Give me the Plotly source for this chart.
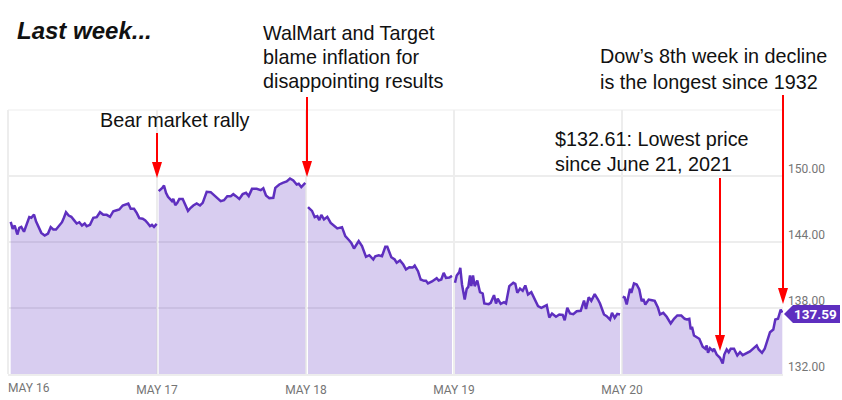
import plotly.graph_objects as go

W, H = 842, 400
L, R, T, B = 8, 783, 110, 374

t_s1 = [10.7,12.7,14.7,17.3,19.3,21.3,24,26.7,29.3,31.3,34,36,38.7,41.3,44.7,48,50.7,53.3,56,59.3,62,64,66,68.7,71.3,74,76.7,79.3,82,84.7,86.7,90,93.3,96.7,100,103.3,106.7,110,113.3,116.7,119.3,122.7,126,128.3,130.7,134,136.7,139.3,142.7,145.3,148,150,152,154,156.7]
p_s1 = [145.83,145.20,145.50,144.68,145.29,145.38,144.93,145.59,146.26,146.20,146.50,145.89,145.38,144.83,144.59,144.77,145.35,145.14,145.14,145.56,145.80,146.23,146.71,146.41,146.29,145.99,145.68,145.80,145.50,145.68,145.44,145.56,146.20,146.26,146.71,146.47,146.47,146.29,146.80,146.89,146.96,147.32,147.47,147.50,147.02,147.02,146.65,146.17,146.11,145.96,145.68,145.44,145.56,145.38,145.65]

t_s2 = [158.7,160.7,162.3,164,166,168,170,172,173.3,175.3,177.3,179.3,182.7,185.3,188,190.7,193.3,196.7,200,202.7,205.3,206.7,210.7,214,217.3,220.7,224,227.3,230.7,233.3,236,239.3,242.7,246,248.7,252,256.7,260.7,263.3,266,269.3,273.3,275.3,279.3,282.7,286.7,290,293.3,296.7,298.7,301.3,305.3]
p_s2 = [148.62,148.77,148.92,149.14,148.47,148.11,147.86,147.71,147.92,147.35,147.56,147.92,147.92,147.41,146.83,147.11,147.32,147.50,147.32,147.56,148.11,148.56,148.53,148.23,147.96,147.71,147.80,148.17,148.17,148.35,148.17,147.92,148.35,148.47,148.17,148.83,148.83,148.71,148.89,148.23,147.99,148.02,148.92,149.23,149.38,149.50,149.77,149.59,149.23,149.29,148.99,149.38]

t_s3 = [308,310.7,312,314.7,317.3,319.3,321.3,324,327.3,330.7,334,337.3,342,345.3,349.3,351.3,354,356.7,358.7,362,366,369.3,373.3,375.3,378.7,382,385.3,387.3,391.3,394.7,396.7,400,403.3,406,409.3,412.7,414.7,418,420.7,424,426,428,432,436.7,438.7,441.3,443.7,446,449.3,452]
p_s3 = [147.17,146.89,146.83,146.26,146.35,145.99,146.47,146.05,146.29,145.74,145.50,145.23,145.35,144.53,144.14,143.92,143.41,143.77,144.08,143.62,142.65,142.80,142.41,142.71,142.80,142.71,143.56,143.56,142.62,142.41,142.11,142.32,141.95,141.50,141.71,141.68,141.86,141.35,140.59,140.47,140.47,140.23,140.41,140.71,140.50,140.59,141.20,140.74,140.77,140.92]

t_s4 = [455,456.7,459.3,460.3,462,464.7,466.7,468.3,470,471.3,473,474.7,477.3,480,482.7,484.3,488.7,490.7,494,496,497.7,500.7,504,506,509.3,513.3,515.3,517.3,520,522.7,525.3,528,531.3,534.7,538,541.3,546.7,549.3,552,556,559.3,562.7,564.7,567.3,570,573.3,576.7,580.7,584,586,588.7,591.3,594.7,598,600,604,606.7,610,612,614.7,617.3,620]
p_s4 = [140.29,140.96,141.26,141.65,140.14,138.77,139.74,139.92,140.96,139.99,140.96,139.99,140.50,139.44,139.32,138.41,138.35,138.47,139.17,138.41,138.86,138.38,138.53,138.41,139.99,140.29,140.20,139.38,139.77,139.56,140.05,139.23,139.44,138.83,138.17,138.02,138.26,137.14,137.50,137.20,137.41,137.38,136.89,138.02,137.50,137.44,137.71,137.74,138.68,137.92,138.98,138.65,139.26,138.77,138.41,137.41,137.26,136.95,137.56,137.11,137.47,137.41]

t_s5 = [622.7,624.7,626.7,628.7,630,631.3,634,636.7,639.3,641.7,643.3,645.3,648.7,652,654.7,658,660,663.3,666.7,670.7,674,677.3,681.3,684.7,686.7,689.3,690.7,692,694,699.3,702.7,705.3,706.7,708,710,712.7,714,716.7,720,722.7,724.3,726.7,728.7,730.7,734,737.3,740,742.7,746.7,750,754,756.7,758.7,762,764.7,767.3,770,773.3,775.3,778,780.7,782.3]
p_s5 = [139.02,138.95,138.32,139.32,139.74,139.38,140.23,140.14,139.68,138.62,138.83,138.32,138.77,138.71,138.65,138.02,137.41,137.56,137.20,136.59,137.02,137.32,137.32,137.02,136.96,137.02,136.05,136.29,135.50,135.20,134.47,134.29,134.59,133.92,134.35,134.11,134.29,133.77,133.47,132.95,133.77,134.23,133.98,134.29,134.29,133.68,133.98,133.71,133.92,134.05,134.38,134.59,134.23,133.92,134.29,135.14,135.80,136.05,136.96,137.02,137.86,137.59]

sessions = [(t_s1, p_s1), (t_s2, p_s2), (t_s3, p_s3), (t_s4, p_s4), (t_s5, p_s5)]

x_tick_vals = [157, 306, 454, 622]
x_tick_text = ["MAY 17", "MAY 18", "MAY 19", "MAY 20"]
y_tick_vals = [132, 138, 144, 150]
y_tick_text = ["132.00", "138.00", "144.00", "150.00"]
last_price = 137.59

LINE = "#5E2FBF"
FILL = "rgba(94,47,191,0.24)"
GRID = "#EDEDED"
TICK = "#757575"
SANS = "Liberation Sans"

fig = go.Figure()
for t, p in sessions:
    fig.add_trace(go.Scatter(x=t, y=p, mode="lines", fill="tozeroy", fillcolor=FILL,
                             line=dict(color=LINE, width=2.5), hoverinfo="skip", showlegend=False))

def px(x):
    return (x - L) / (R - L)
def py(y):
    return (B - y) / (B - T)

shapes = []
annotations = []

def note(x, y, text, size=19.8, **kw):
    annotations.append(dict(x=px(x), y=py(y), xref="paper", yref="paper", text=text, showarrow=False,
                            xanchor=kw.pop("xanchor", "left"), yanchor=kw.pop("yanchor", "middle"),
                            align="left", font=dict(family=kw.pop("family", SANS), size=size, color=kw.pop("color", "#111111")), **kw))

def arrow(x, y0, y1):
    shapes.append(dict(type="line", xref="paper", yref="paper", x0=px(x), x1=px(x), y0=py(y0), y1=py(y1 - 12),
                       line=dict(color="#FF0000", width=2)))
    path = f"M {px(x-5)} {py(y1-16)} L {px(x+5)} {py(y1-16)} L {px(x)} {py(y1)} Z"
    shapes.append(dict(type="path", xref="paper", yref="paper", path=path, fillcolor="#FF0000", line=dict(width=0)))

arrow(157, 133, 178)
arrow(307, 97, 177)
arrow(720, 178, 351)
arrow(783, 95, 304)

# left and top frame lines
shapes.append(dict(type="line", xref="paper", yref="paper", x0=0, x1=0, y0=0, y1=1, line=dict(color=GRID, width=2), layer="below"))
shapes.append(dict(type="line", xref="paper", yref="paper", x0=0, x1=1, y0=1, y1=1, line=dict(color=GRID, width=1), layer="below"))

# price tag
tag = f"M {px(784)} {py(314)} L {px(793)} {py(305)} L {px(840)} {py(305)} L {px(840)} {py(323)} L {px(793)} {py(323)} Z"
shapes.append(dict(type="path", xref="paper", yref="paper", path=tag, fillcolor=LINE, line=dict(width=0)))
note(815.5, 314, f"<b>{last_price:.2f}</b>", size=13.5, family="Roboto", color="#FFFFFF", xanchor="center")

note(15, 31, "<b><i>Last week...</i></b>", size=24)
note(98, 120, "Bear market rally")
note(261, 33, "WalMart and Target")
note(261, 57, "blame inflation for")
note(261, 81, "disappointing results")
note(598, 56, "Dow’s 8th week in decline")
note(598, 82, "is the longest since 1932")
note(553, 139, "$132.61: Lowest price")
note(553, 164, "since June 21, 2021")
note(6, 388, "MAY 16", size=12, family="Roboto", color=TICK)

fig.update_layout(
    width=W, height=H, margin=dict(l=L, r=W - R, t=T, b=H - B, pad=0, autoexpand=False),
    paper_bgcolor="white", plot_bgcolor="white", shapes=shapes, annotations=annotations, showlegend=False,
    xaxis=dict(range=[L, R], tickmode="array", tickvals=x_tick_vals, ticktext=x_tick_text, showgrid=True,
               gridcolor=GRID, gridwidth=2, zeroline=False, showline=True, linecolor=GRID, linewidth=2,
               ticks="", ticklabelstandoff=4, tickfont=dict(family="Roboto", size=12, color=TICK)),
    yaxis=dict(range=[132, 156], side="right", tickmode="array", tickvals=y_tick_vals,
               ticktext=y_tick_text, showgrid=True, gridcolor=GRID, gridwidth=2, zeroline=False, showline=False,
               ticks="", ticklabelstandoff=4, ticklabelshift=-7, tickfont=dict(family="Roboto", size=12, color=TICK)),
)
fig.write_html("out.html", config={"displayModeBar": False},
               post_script="document.body.style.margin='0';document.body.style.overflow='hidden';")
